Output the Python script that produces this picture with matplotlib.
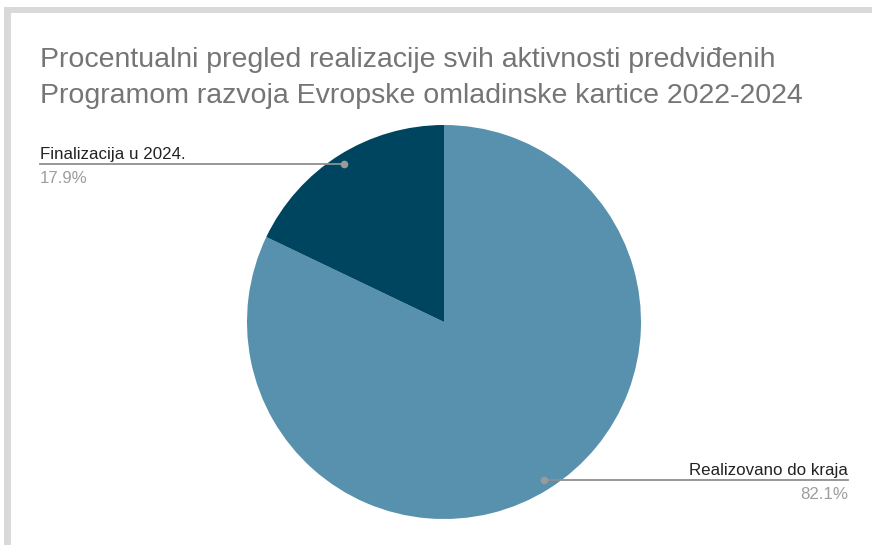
from matplotlib import pyplot as plt
from matplotlib.patches import Rectangle
import numpy as np

# data
labels = ['Realizovano do kraja', 'Finalizacija u 2024.']
values = [82.1, 17.9]
colors = ['#5891ad', '#00455f']
title_lines = ['Procentualni pregled realizacije svih aktivnosti predviđenih',
               'Programom razvoja Evropske omladinske kartice 2022-2024']

W, H = 872, 545
fig = plt.figure(figsize=(W / 100, H / 100), dpi=100)
fig.patch.set_facecolor('white')

# gray frame on top / left edge
fig.patches.append(Rectangle((4 / W, 0), 7 / W, (H - 7) / H, transform=fig.transFigure,
                             facecolor='#d9d9d9', edgecolor='none', zorder=0))
fig.patches.append(Rectangle((4 / W, (H - 13) / H), (W - 4) / W, 6 / H, transform=fig.transFigure,
                             facecolor='#d9d9d9', edgecolor='none', zorder=0))

font = 'Liberation Sans'
for i, line in enumerate(title_lines):
    fig.text(40 / W, 1 - (67 + 36 * i) / H, line, fontsize=20.5, color='#757575',
             family=font, va='baseline', ha='left')

# pie: center (444, 322), radius 197 px
cx, cy, r = 444, 322, 197
ax = fig.add_axes([(cx - r) / W, 1 - (cy + r) / H, 2 * r / W, 2 * r / H])
wedges, _ = ax.pie(values, colors=colors, startangle=90, counterclock=False,
                   wedgeprops=dict(linewidth=0))
ax.set_xlim(-1, 1)
ax.set_ylim(-1, 1)
ax.set_aspect('auto')

# leader lines + labels
label_x = {0: 848, 1: 40}
for i, w in enumerate(wedges):
    ang = np.deg2rad((w.theta1 + w.theta2) / 2)
    px, py = 0.95 * np.cos(ang), 0.95 * np.sin(ang)
    lx = (label_x[i] - cx) / r
    ax.plot([px, lx], [py, py], color='#8f8f8f', linewidth=1.3, clip_on=False)
    ax.plot([px], [py], 'o', color='#9a9a9a', markersize=4.5, clip_on=False)
    # y of line in figure pixels (from top)
    ly = cy - py * r
    ha = 'right' if i == 0 else 'left'
    fig.text(label_x[i] / W, 1 - (ly - 5) / H, labels[i], fontsize=12.2,
             color='#222222', family=font, ha=ha, va='baseline')
    fig.text(label_x[i] / W, 1 - (ly + 19) / H, f'{values[i]:.1f}%', fontsize=12.2,
             color='#9e9e9e', family=font, ha=ha, va='baseline')

fig.savefig('out.png', dpi=100)
